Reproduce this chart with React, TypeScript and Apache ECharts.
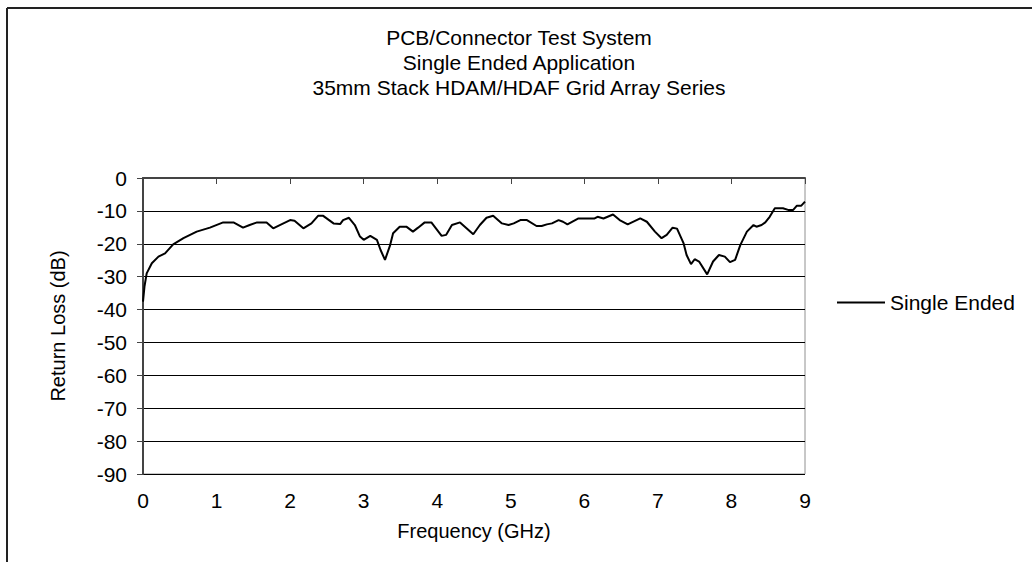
import React, { useEffect, useRef } from "react";
import * as echarts from "echarts";

const titleLines = [
  "PCB/Connector Test System",
  "Single Ended Application",
  "35mm Stack HDAM/HDAF Grid Array Series",
];
const seriesName = "Single Ended";
const xAxisName = "Frequency (GHz)";
const yAxisName = "Return Loss (dB)";

const freqGHz = [
  0.0, 0.02, 0.05, 0.12, 0.21, 0.3, 0.41, 0.55, 0.73, 0.91, 1.09, 1.23, 1.36, 1.45, 1.55, 1.68,
  1.77, 1.86, 2.0, 2.06, 2.18, 2.29, 2.38, 2.45, 2.59, 2.68, 2.72, 2.8, 2.88, 2.95, 3.0, 3.09,
  3.18, 3.23, 3.29, 3.36, 3.4, 3.49, 3.58, 3.67, 3.74, 3.83, 3.92, 4.06, 4.12, 4.2, 4.31, 4.49,
  4.58, 4.67, 4.76, 4.88, 4.97, 5.04, 5.13, 5.22, 5.35, 5.42, 5.49, 5.56, 5.65, 5.71, 5.77,
  5.92, 6.14, 6.18, 6.26, 6.39, 6.48, 6.59, 6.76, 6.85, 6.96, 7.05, 7.12, 7.2, 7.26, 7.35,
  7.39, 7.45, 7.5, 7.56, 7.67, 7.75, 7.83, 7.91, 7.98, 8.05, 8.12, 8.21, 8.3, 8.34, 8.41,
  8.46, 8.52, 8.59, 8.7, 8.77, 8.84, 8.89, 8.95, 9.0,
];
const returnLossDb = [
  -37.6, -33, -29, -25.9, -23.9, -22.9, -20.2, -18.3, -16.3, -15.1, -13.5, -13.5, -15.1, -14.3,
  -13.5, -13.5, -15.3, -14.3, -12.8, -13.0, -15.3, -13.8, -11.5, -11.5, -13.8, -14.0, -12.8,
  -12.1, -14.3, -17.8, -18.8, -17.6, -18.8, -21.9, -24.9, -20.4, -16.8, -14.8, -14.8, -16.3,
  -15.1, -13.5, -13.5, -17.6, -17.3, -14.3, -13.5, -17.1, -14.3, -12.1, -11.5, -13.8, -14.3,
  -13.8, -12.8, -12.8, -14.6, -14.6, -14.1, -13.8, -12.8, -13.3, -14.1, -12.3, -12.3, -11.8,
  -12.3, -11.1, -12.8, -14.1, -12.3, -13.3, -16.3, -18.3, -17.3, -15.1, -15.4, -19.9, -23.4,
  -26.2, -24.7, -25.4, -29.3, -25.4, -23.4, -23.9, -25.6, -24.9, -20.4, -16.3, -14.3, -14.8,
  -14.3, -13.5, -11.8, -9.2, -9.2, -9.7, -9.7, -8.4, -8.4, -7.2,
];

const FONT = "'Liberation Sans', Arial, sans-serif";

export default function App() {
  const ref = useRef<HTMLDivElement>(null);
  useEffect(() => {
    if (!ref.current) return;
    const chart = echarts.init(ref.current, undefined, { renderer: "svg" });
    const data = freqGHz.map((f, i) => [f, returnLossDb[i]]);
    const splitColors = ["#000", "#000", "#000", "#000", "#000", "#000", "#000", "#000", "#000", "#909090"];
    chart.setOption({
      animation: false,
      backgroundColor: "#fff",
      textStyle: { fontFamily: FONT, color: "#000" },
      title: {
        text: titleLines.join("\n"),
        left: 514,
        top: 20,
        textAlign: "center",
        textStyle: { fontFamily: FONT, fontSize: 21, fontWeight: "normal", color: "#000", lineHeight: 25 },
      },
      graphic: [
        { type: "line", shape: { x1: 7, y1: 8, x2: 1032, y2: 8 }, style: { stroke: "#222", lineWidth: 2 } },
        { type: "line", shape: { x1: 7, y1: 8, x2: 7, y2: 562 }, style: { stroke: "#222", lineWidth: 2 } },
      ],
      legend: {
        left: 832,
        top: 287,
        icon: "rect",
        itemWidth: 48,
        itemHeight: 2,
        itemGap: 0,
        textStyle: { fontFamily: FONT, fontSize: 21, color: "#000", padding: [0, 0, 0, 0] },
        data: [seriesName],
      },
      grid: {
        left: 143,
        top: 178,
        right: 227,
        bottom: 88,
        show: true,
        borderColor: "#909090",
        borderWidth: 1,
        containLabel: false,
      },
      xAxis: {
        type: "value",
        min: 0,
        max: 9,
        interval: 1,
        name: xAxisName,
        nameLocation: "middle",
        nameGap: 47,
        nameTextStyle: { fontFamily: FONT, fontSize: 20, color: "#000" },
        axisLine: { show: true, lineStyle: { color: "#444", width: 2 } },
        axisTick: { show: true, length: 6, lineStyle: { color: "#444" } },
        axisLabel: { fontFamily: FONT, fontSize: 21, color: "#000", margin: 16 },
        splitLine: { show: false },
      },
      yAxis: {
        type: "value",
        min: -90,
        max: 0,
        interval: 10,
        name: yAxisName,
        nameLocation: "middle",
        nameGap: 75,
        nameTextStyle: { fontFamily: FONT, fontSize: 20, color: "#000" },
        axisLine: { show: true, lineStyle: { color: "#444", width: 2 } },
        axisTick: { show: true, length: 6, lineStyle: { color: "#444" } },
        axisLabel: { fontFamily: FONT, fontSize: 21, color: "#000", margin: 16 },
        splitLine: { show: true, lineStyle: { color: splitColors, width: 1 } },
      },
      series: [
        {
          name: seriesName,
          type: "line",
          data,
          showSymbol: false,
          symbol: "none",
          color: "#000",
          lineStyle: { color: "#000", width: 2 },
        },
      ],
    });
    return () => chart.dispose();
  }, []);
  return (
    <div
      ref={ref}
      style={{ position: "absolute", left: 0, top: 0, width: 1032, height: 562 }}
    />
  );
}
